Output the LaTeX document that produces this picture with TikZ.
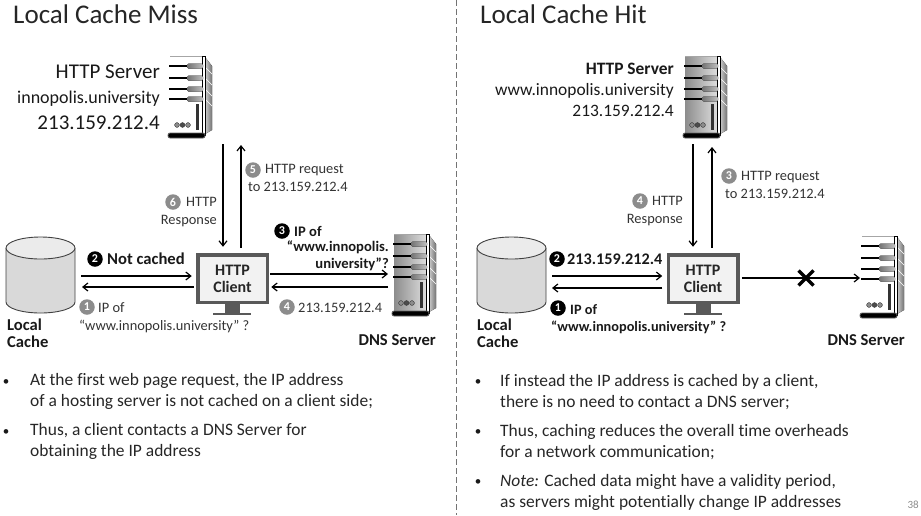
\documentclass[tikz,border=0pt]{standalone}
\usepackage{fontspec}
\setmainfont[Ligatures=NoCommon]{Carlito}
\usetikzlibrary{arrows.meta}
\usetikzlibrary{shapes.misc}
\pgfdeclarelayer{lineas_layer}
\pgfsetlayers{lineas_layer,main}
\definecolor{gris_num}{HTML}{8C8C8C}
\definecolor{gris_mon}{HTML}{595959}
\tikzstyle{titulo}=[inner sep=0pt,anchor=base west,font=\fontsize{27}{27}\selectfont,text=black!85]
\tikzstyle{etiqueta}=[inner sep=0pt,anchor=base west,align=left,font=\fontsize{14.4}{17.5}\selectfont,text=black!80]
\tikzstyle{etiqueta_der}=[etiqueta,anchor=base east,align=right]
\tikzstyle{negrita}=[etiqueta,font=\fontsize{16.6}{17}\selectfont\bfseries,text=black!90]
\tikzstyle{negrita_der}=[negrita,anchor=base east,align=right]
\tikzstyle{vineta}=[inner sep=0pt,anchor=base,font=\fontsize{13}{13}\selectfont,text=black!90]
\tikzstyle{cuerpo}=[inner sep=0pt,anchor=base west,align=left,font=\fontsize{17.45}{21}\selectfont,text=black!85]
\tikzstyle{num_gris}=[circle,inner sep=0pt,minimum size=15.5pt,fill=gris_num,text=white,font=\fontsize{12}{12}\selectfont\bfseries]
\tikzstyle{num_negro}=[num_gris,fill=black]
\tikzstyle{caja_cache}=[inner sep=0pt,outer sep=0pt,minimum width=69pt,minimum height=76pt]
\tikzstyle{cliente}=[draw=gris_mon,line width=3.5pt,fill=black!5,minimum width=69.5pt,minimum height=47.5pt,inner sep=0pt,outer sep=0pt,align=center,font=\fontsize{16}{17}\selectfont\bfseries,text=black!85]
\tikzstyle{caja_srv}=[inner sep=0pt,outer sep=0pt,minimum width=44pt,minimum height=82pt]
\tikzstyle{cruz}=[cross out,draw=black,line width=3.5pt,minimum size=15pt,inner sep=0pt,outer sep=0pt]
\tikzstyle{line}=[draw=black,line width=1.2pt,-{Straight Barb[length=5pt,width=8pt,line width=1.2pt]}]
\tikzstyle{separador}=[draw=black!55,line width=0.8pt,dash pattern=on 6pt off 3pt]
\tikzset{
	frente srv/.style={left color=black!45,right color=black!12},
	servidor/.pic={
		\fill [frente srv] (2,0) rectangle (35,78);
		\draw [draw=black!35,line width=0.5pt] (2,0) -- (35,0);
		\fill [left color=black!20,right color=black!55] (37,1) -- (44,10) -- (44,74) -- (37,78) -- cycle;
		\foreach \y in {18,29,40,50} {\draw [white,line width=0.7pt] (37,\y-7) -- (44,\y);}
		\draw [fill=white,draw=black,line width=0.6pt] (34.5,0) rectangle (37,79);
		\foreach \y in {10,22,33,43} {
			\draw [black,line width=2pt] (1,\y) -- (20,\y);
			\fill [left color=black!55,right color=black!25,rounded corners=1.5pt] (19,\y-2.5) rectangle (35,\y+2.5);
		}
		\fill [black!80] (28,48) rectangle (31,74);
		\foreach \x/\c in {9/45,14.5/70,20/45} {\draw [fill=black!\c,draw=black!80,line width=0.4pt] (\x,69) circle (2.4);}
		\draw [fill=black,draw=black!60,line width=0.8pt,rounded corners=2pt] (0,77) rectangle (37,82);
	},
	disco/.pic={
		\draw [fill=black!15,draw=black!75,line width=0.9pt] (0,11) -- (0,65) arc [start angle=180,end angle=0,x radius=34.5,y radius=11] -- (69,11);
		\draw [fill=black!8,draw=black!75,line width=0.9pt] (34.5,11) ellipse [x radius=34.5,y radius=11];
	},
}
\begin{document}
\begin{tikzpicture}[x=1pt,y=-1pt]
	\useasboundingbox (0,0) rectangle (921,515);
	\coordinate (sep_a) at (456,0);
	\coordinate (sep_b) at (456,515);
	\path [style=separador] (sep_a) -- (sep_b);
	% lado izquierdo
	\node [style=titulo] (titulo_miss) at (13,23) {Local Cache Miss};
	\node [style=caja_srv] (http_miss) at (190,97) {};
	\pic [frente srv/.style={fill=white}] at (http_miss.north west) {servidor};
	\node [style=etiqueta_der,font=\fontsize{21}{25.5}\selectfont,text=black!90] (http_miss_txt) at (160,129) {HTTP Server\\{\fontsize{18}{25.5}\selectfont innopolis.university}\\213.159.212.4};
	\node [style=caja_cache] (cache_miss) at (40.5,275) {};
	\pic at (cache_miss.north west) {disco};
	\node [style=cliente] (cliente_miss) at (232.5,278.5) {HTTP\\Client};
	\fill [gris_mon] (225,304) rectangle (240,313);
	\fill [gris_mon] (213,313) rectangle (251,314.5);
	\node [style=caja_srv] (dns_miss) at (414,275) {};
	\pic at (dns_miss.north west) {servidor};
	\node [style=negrita] (cache_miss_txt) at (7,347) {Local\\Cache};
	\node [style=negrita_der] (dns_miss_txt) at (436,345) {DNS Server};
	\node [style=num_negro] (n2_miss) at (95,259) {2};
	\node [style=negrita] (n2_miss_txt) at (107,264) {Not cached};
	\node [style=num_gris] (n1_miss) at (87,307) {1};
	\node [style=etiqueta] (n1_miss_txt) at (79,330) {\hspace*{19pt}IP of\\“www.innopolis.university” ?};
	\node [style=num_negro] (n3_miss) at (282,231) {3};
	\node [style=negrita,font=\fontsize{14.6}{16.5}\selectfont\bfseries] (n3_miss_a) at (294,236) {IP of};
	\node [style=negrita_der,font=\fontsize{14.6}{16.5}\selectfont\bfseries] (n3_miss_txt) at (389,268) {“www.innopolis.\\university”?};
	\node [style=num_gris] (n4_miss) at (287,307) {4};
	\node [style=etiqueta] (n4_miss_txt) at (298,312) {213.159.212.4};
	\node [style=num_gris] (n5_miss) at (253,170) {5};
	\node [style=etiqueta] (n5_miss_txt) at (248,191) {\hspace*{17pt}HTTP request\\to 213.159.212.4};
	\node [style=num_gris] (n6_miss) at (173,202) {6};
	\node [style=etiqueta_der] (n6_miss_txt) at (217,224) {HTTP\\Response};
	% lado derecho
	\node [style=titulo] (titulo_hit) at (480,23) {Local Cache Hit};
	\node [style=caja_srv] (http_hit) at (705,97) {};
	\pic at (http_hit.north west) {servidor};
	\node [style=etiqueta_der,font=\fontsize{17.4}{21}\selectfont,text=black!90] (http_hit_txt) at (674,116) {\textbf{HTTP Server}\\www.innopolis.university\\213.159.212.4};
	\node [style=caja_cache] (cache_hit) at (511.5,275) {};
	\pic at (cache_hit.north west) {disco};
	\node [style=cliente] (cliente_hit) at (703,278.5) {HTTP\\Client};
	\fill [gris_mon] (696,304) rectangle (711,313);
	\fill [gris_mon] (684,313) rectangle (722,314.5);
	\node [style=caja_srv] (dns_hit) at (882,277) {};
	\pic [frente srv/.style={fill=white}] at (dns_hit.north west) {servidor};
	\node [style=negrita] (cache_hit_txt) at (477,347) {Local\\Cache};
	\node [style=negrita_der] (dns_hit_txt) at (905,345) {DNS Server};
	\node [style=num_negro] (n2_hit) at (557,259) {2};
	\node [style=negrita,font=\fontsize{16.2}{17}\selectfont\bfseries] (n2_hit_txt) at (567,264) {213.159.212.4};
	\node [style=num_negro] (n1_hit) at (558,308) {1};
	\node [style=negrita,font=\fontsize{14.3}{17}\selectfont\bfseries] (n1_hit_txt) at (551,331) {\hspace*{19pt}IP of\\“www.innopolis.university” ?};
	\node [style=num_gris] (n3_hit) at (729,176) {3};
	\node [style=etiqueta] (n3_hit_txt) at (725,198) {\hspace*{16pt}HTTP request\\to 213.159.212.4};
	\node [style=num_gris] (n4_hit) at (640,201) {4};
	\node [style=etiqueta_der] (n4_hit_txt) at (683,223) {HTTP\\Response};
	\node [style=cruz] (cruz_dns) at (806,278) {};
	% conectores
	\begin{pgfonlayer}{lineas_layer}
		\path [style=line] ([shift={(33,6)}]http_miss.south) -- ([shift={(-9.5,-8)}]cliente_miss.north);
		\path [style=line] ([shift={(8.5,-7)}]cliente_miss.north) -- ([shift={(51,7)}]http_miss.south);
		\path [style=line] ([shift={(6,1)}]cache_miss.east) -- ([shift={(-6,-2.5)}]cliente_miss.west);
		\path [style=line] ([shift={(-4,8.5)}]cliente_miss.west) -- ([shift={(7,12)}]cache_miss.east);
		\path [style=line] ([shift={(3,-4.5)}]cliente_miss.east) -- ([shift={(-4,-1)}]dns_miss.west);
		\path [style=line] ([shift={(-4,12)}]dns_miss.west) -- ([shift={(4,8.5)}]cliente_miss.east);
		\path [style=line] ([shift={(-12,6)}]http_hit.south) -- ([shift={(-10,-8)}]cliente_hit.north);
		\path [style=line] ([shift={(9,-7)}]cliente_hit.north) -- ([shift={(7,9)}]http_hit.south);
		\path [style=line] ([shift={(6,1)}]cache_hit.east) -- ([shift={(-6,-2.5)}]cliente_hit.west);
		\path [style=line] ([shift={(-6,9.5)}]cliente_hit.west) -- ([shift={(6,13)}]cache_hit.east);
		\path [style=line] (cliente_hit.east |- cruz_dns) ++(4,0) -- (dns_hit.west |- cruz_dns);
	\end{pgfonlayer}
	% textos de abajo
	\node [style=vineta] (v1) at (6,385) {•};
	\node [style=cuerpo] (t1) at (30,406) {At the first web page request, the IP address\\of a hosting server is not cached on a client side;};
	\node [style=vineta] (v2) at (6,435) {•};
	\node [style=cuerpo] (t2) at (30,456) {Thus, a client contacts a DNS Server for\\obtaining the IP address};
	\node [style=vineta] (v3) at (478,385) {•};
	\node [style=cuerpo] (t3) at (500,407) {If instead the IP address is cached by a client,\\there is no need to contact a DNS server;};
	\node [style=vineta] (v4) at (478,435) {•};
	\node [style=cuerpo] (t4) at (500,457) {Thus, caching reduces the overall time overheads\\for a network communication;};
	\node [style=vineta] (v5) at (478,485) {•};
	\node [style=cuerpo] (t5) at (500,507) {\textit{Note:} Cached data might have a validity period,\\as servers might potentially change IP addresses};
	\node [inner sep=0pt,anchor=base east,font=\fontsize{11}{11}\selectfont,text=black!45] (pagina) at (919,508) {38};
\end{tikzpicture}
\end{document}
